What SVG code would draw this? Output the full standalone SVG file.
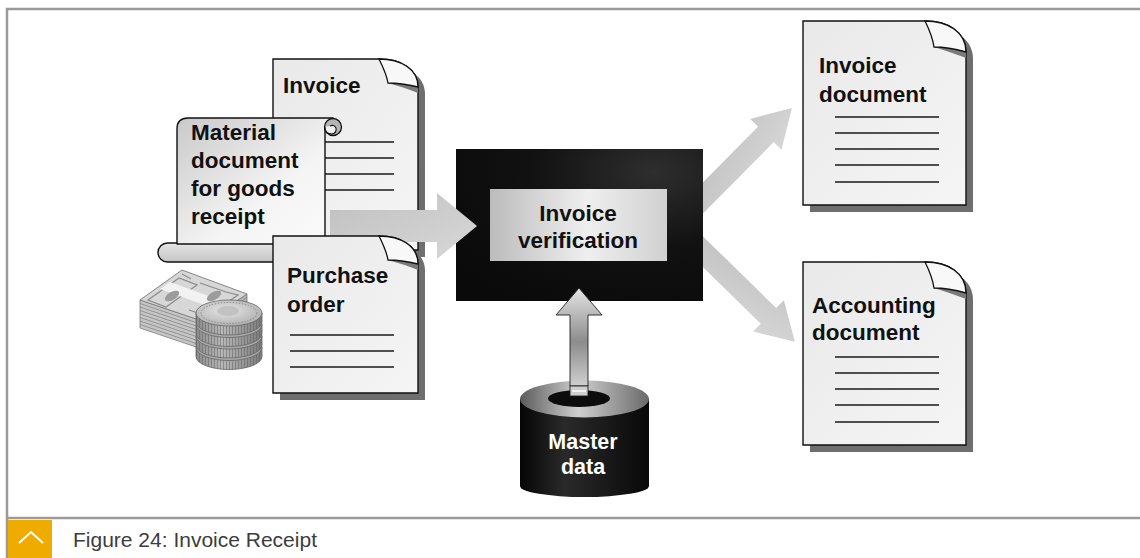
<svg xmlns="http://www.w3.org/2000/svg" width="1140" height="558" viewBox="0 0 1140 558">
  <defs>
    <style>
      .lbl { font-family: "Liberation Sans", Arial, sans-serif; font-weight: bold; font-size: 22.5px; fill: #111; }
      .wlbl { font-family: "Liberation Sans", Arial, sans-serif; font-weight: bold; font-size: 21.5px; fill: #fff; }
      .page { fill: url(#pageGrad); stroke: #111; stroke-width: 1.4; }
      .shadow { fill: #6e6e6e; }
      .flap { fill: #f8f8f8; stroke: #111; stroke-width: 1.3; }
      .band { fill: #7a7a7a; }
      .rule { stroke: #1a1a1a; stroke-width: 1.3; fill: none; }
      .frame { stroke: #9a9a9a; stroke-width: 2.5; fill: none; }
      .flow { fill: url(#flowGrad); }
    </style>
    <linearGradient id="pageGrad" x1="0" y1="0" x2="1" y2="1">
      <stop offset="0" stop-color="#e9e9e9"/>
      <stop offset="1" stop-color="#f5f5f5"/>
    </linearGradient>
    <linearGradient id="scrollGrad" x1="0" y1="0" x2="1" y2="1">
      <stop offset="0" stop-color="#c9c9c9"/>
      <stop offset="0.6" stop-color="#f4f4f4"/>
      <stop offset="1" stop-color="#fbfbfb"/>
    </linearGradient>
    <linearGradient id="rollGrad" x1="0" y1="0" x2="0" y2="1">
      <stop offset="0" stop-color="#e6e6e6"/>
      <stop offset="1" stop-color="#c4c4c4"/>
    </linearGradient>
    <linearGradient id="flowGrad" x1="0" y1="0" x2="1" y2="1">
      <stop offset="0" stop-color="#c0c0c0"/>
      <stop offset="1" stop-color="#d8d8d8"/>
    </linearGradient>
    <linearGradient id="upGrad" x1="0" y1="0" x2="0" y2="1">
      <stop offset="0" stop-color="#e4e4e4"/>
      <stop offset="0.55" stop-color="#8c8c8c"/>
      <stop offset="1" stop-color="#cfcfcf"/>
    </linearGradient>
    <radialGradient id="boxGrad" cx="0.8" cy="0.15" r="1">
      <stop offset="0" stop-color="#2e2e2e"/>
      <stop offset="0.5" stop-color="#111"/>
      <stop offset="1" stop-color="#0a0a0a"/>
    </radialGradient>
    <linearGradient id="innerGrad" x1="0" y1="0" x2="1" y2="0">
      <stop offset="0" stop-color="#bcbcbc"/>
      <stop offset="0.55" stop-color="#efefef"/>
      <stop offset="1" stop-color="#d0d0d0"/>
    </linearGradient>
    <linearGradient id="cylGrad" x1="0" y1="0" x2="1" y2="0">
      <stop offset="0" stop-color="#050505"/>
      <stop offset="0.35" stop-color="#2a2a2a"/>
      <stop offset="1" stop-color="#080808"/>
    </linearGradient>
    <linearGradient id="ringGrad" x1="0" y1="0" x2="1" y2="0">
      <stop offset="0" stop-color="#5a5a5a"/>
      <stop offset="0.45" stop-color="#cfcfcf"/>
      <stop offset="1" stop-color="#6a6a6a"/>
    </linearGradient>
    <linearGradient id="coinGrad" x1="0" y1="0" x2="1" y2="0">
      <stop offset="0" stop-color="#8a8a8a"/>
      <stop offset="0.4" stop-color="#b8b8b8"/>
      <stop offset="1" stop-color="#7a7a7a"/>
    </linearGradient>
    <radialGradient id="coinTop" cx="0.45" cy="0.4" r="0.7">
      <stop offset="0" stop-color="#e6e6e6"/>
      <stop offset="1" stop-color="#a8a8a8"/>
    </radialGradient>
    <pattern id="rib" width="3" height="12" patternUnits="userSpaceOnUse">
      <line x1="1.5" y1="0" x2="1.5" y2="12" stroke="#5e5e5e" stroke-width="0.8"/>
    </pattern>
    <clipPath id="rightOfBox">
      <rect x="703" y="0" width="437" height="558"/>
    </clipPath>
  </defs>

  <rect width="1140" height="558" fill="#fff"/>

  <!-- frame and caption -->
  <g id="frame">
    <path class="frame" d="M7,558 V9 H1140 M7,518 H1140"/>
    <rect x="8" y="520" width="44" height="38" fill="#f0ab00"/>
    <path d="M19,543 L31,532 L43,543" fill="none" stroke="#fff" stroke-width="2"/>
    <text x="73" y="547" font-family="'Liberation Sans', Arial, sans-serif" font-size="21" fill="#3c3c3c">Figure 24: Invoice Receipt</text>
  </g>

  <!-- incoming invoice -->
  <g id="invoice-in">
    <path class="shadow" transform="translate(7,7)" d="M273,59 H379 C401,59 418,69 418,87 V250 H273 Z"/>
    <path class="page" d="M273,59 H379 C401,59 418,69 418,87 V250 H273 Z"/>
    <path class="band" d="M388,83 Q401,83 418,87 L418,93 Q403,87 391,84 Z"/>
    <path class="flap" d="M379,59 C383,67 387,77 388,83 Q401,83 418,87 C418,69 401,59 379,59 Z"/>
    <text class="lbl" x="283" y="93">Invoice</text>
    <path class="rule" d="M325,142 H394 M325,158 H394 M325,174 H394 M325,190 H394"/>
  </g>

  <!-- goods receipt scroll -->
  <g id="goods-receipt">
    <rect x="158" y="243" width="150" height="19" rx="9.5" fill="url(#rollGrad)" stroke="#111" stroke-width="1.4"/>
    <path d="M177,244 V129 Q177,118 188,118 H333 L325,128 V244 Z" fill="url(#scrollGrad)" stroke="#111" stroke-width="1.4" stroke-linejoin="round"/>
    <circle cx="333" cy="127" r="8.5" fill="#b4b4b4" stroke="#111" stroke-width="1.3"/>
    <path d="M325,127 Q325,134 332,134 Q337,133 336,128 Q334,124 330,126" fill="#f0f0f0" stroke="#111" stroke-width="1.1"/>
    <text class="lbl" x="191" y="140">Material</text>
    <text class="lbl" x="191" y="168">document</text>
    <text class="lbl" x="191" y="196">for goods</text>
    <text class="lbl" x="191" y="224">receipt</text>
  </g>

  <!-- money: banknotes and coins -->
  <g id="money">
    <path d="M140,300 L205,322 L205,350 L140,328 Z" fill="#c6c6c6" stroke="#7a7a7a" stroke-width="0.8"/>
    <path d="M205,322 L247,294 L247,322 L205,350 Z" fill="#b4b4b4" stroke="#7a7a7a" stroke-width="0.8"/>
    <path d="M140,303.5 L205,325.5 M140,307 L205,329 M140,310.5 L205,332.5 M140,314 L205,336 M140,317.5 L205,339.5 M140,321 L205,343 M140,324.5 L205,346.5 M205,325.5 L247,297.5 M205,329 L247,301 M205,332.5 L247,304.5 M205,336 L247,308 M205,339.5 L247,311.5 M205,343 L247,315 M205,346.5 L247,318.5" stroke="#7c7c7c" stroke-width="0.7" fill="none"/>
    <path d="M140,300 L182,270 L247,294 L205,322 Z" fill="#d7d7d7" stroke="#7a7a7a" stroke-width="0.9"/>
    <path d="M148,300 L179,278 L197,285 L166,307 Z" fill="none" stroke="#8c8c8c" stroke-width="1.2"/>
    <path d="M191,279 L182,274 M200,283 L226,292 L238,295 L207,316 L189,310" fill="none" stroke="#8c8c8c" stroke-width="1.2"/>
    <path d="M160,289 L170,282 L234,305 L224,312 Z" fill="#f2f2f2"/>
    <ellipse cx="172" cy="296" rx="8" ry="4" fill="#9c9c9c" transform="rotate(-30 172 296)"/>
    <ellipse cx="214" cy="296" rx="8" ry="4" fill="#9c9c9c" transform="rotate(-30 214 296)"/>
    <!-- coin stack, bottom coin first -->
    <path d="M196,347.5 V356.5 A33,13 0 0 0 262,356.5 V347.5 Z" fill="url(#coinGrad)" stroke="#666" stroke-width="0.8"/>
    <path d="M196,347.5 V356.5 A33,13 0 0 0 262,356.5 V347.5 Z" fill="url(#rib)" opacity="0.6"/>
    <ellipse cx="229" cy="347.5" rx="33" ry="13" fill="#aaa" stroke="#666" stroke-width="0.8"/>
    <path d="M196,336 V345 A33,13 0 0 0 262,345 V336 Z" fill="url(#coinGrad)" stroke="#666" stroke-width="0.8"/>
    <path d="M196,336 V345 A33,13 0 0 0 262,345 V336 Z" fill="url(#rib)" opacity="0.6"/>
    <ellipse cx="229" cy="336" rx="33" ry="13" fill="#aaa" stroke="#666" stroke-width="0.8"/>
    <path d="M196,324.5 V333.5 A33,13 0 0 0 262,333.5 V324.5 Z" fill="url(#coinGrad)" stroke="#666" stroke-width="0.8"/>
    <path d="M196,324.5 V333.5 A33,13 0 0 0 262,333.5 V324.5 Z" fill="url(#rib)" opacity="0.6"/>
    <ellipse cx="229" cy="324.5" rx="33" ry="13" fill="#aaa" stroke="#666" stroke-width="0.8"/>
    <path d="M196,313 V322 A33,13 0 0 0 262,322 V313 Z" fill="url(#coinGrad)" stroke="#666" stroke-width="0.8"/>
    <path d="M196,313 V322 A33,13 0 0 0 262,322 V313 Z" fill="url(#rib)" opacity="0.6"/>
    <ellipse cx="229" cy="313" rx="33" ry="13" fill="url(#coinTop)" stroke="#666" stroke-width="0.8"/>
    <ellipse cx="229" cy="313" rx="28" ry="10.5" fill="none" stroke="#8a8a8a" stroke-width="1" stroke-dasharray="1.5 1.5"/>
    <ellipse cx="228" cy="311" rx="11" ry="5" fill="#c2c2c2"/>
  </g>

  <!-- invoice verification step -->
  <g id="invoice-verification">
    <rect x="456" y="149" width="247" height="152" fill="url(#boxGrad)"/>
    <rect x="490" y="189" width="177" height="72" fill="url(#innerGrad)"/>
    <text class="lbl" x="578" y="221" text-anchor="middle">Invoice</text>
    <text class="lbl" x="578" y="248" text-anchor="middle">verification</text>
  </g>

  <!-- master data store -->
  <g id="master-data">
    <path d="M520,399 V486 A64.5,11 0 0 0 649,486 V399 Z" fill="url(#cylGrad)"/>
    <ellipse cx="584.5" cy="399" rx="64.5" ry="18.5" fill="url(#ringGrad)"/>
    <ellipse cx="579" cy="398.5" rx="31" ry="8.5" fill="#0c0c0c"/>
    <text class="wlbl" x="583" y="449" text-anchor="middle">Master</text>
    <text class="wlbl" x="583" y="474" text-anchor="middle">data</text>
  </g>

  <!-- connectors -->
  <g id="connectors">
    <path class="flow" d="M330,210 H437 V193 L477,226 L437,259 V242 H330 Z"/>
    <g clip-path="url(#rightOfBox)">
      <path class="flow" transform="translate(692,209) rotate(-45.3)" d="M0,-11 H105 V-22 L142,0 L105,22 V11 H0 Z"/>
      <path class="flow" transform="translate(692,241) rotate(44.4)" d="M0,-11 H107 V-22 L144,0 L107,22 V11 H0 Z"/>
    </g>
    <path d="M579,288 L602,315 H588 V386 H570 V315 H556 Z" fill="url(#upGrad)" stroke="#222" stroke-width="0.9"/>
    <rect x="570" y="386" width="18" height="10" fill="#cfcfcf" stroke="#222" stroke-width="0.9"/>
    <line x1="572" y1="391" x2="586" y2="391" stroke="#fff" stroke-width="1.5"/>
  </g>

  <!-- purchase order -->
  <g id="purchase-order">
    <path class="shadow" transform="translate(7,7)" d="M273,236 H379 C401,236 418,246 418,264 V393 H273 Z"/>
    <path class="page" d="M273,236 H379 C401,236 418,246 418,264 V393 H273 Z"/>
    <path class="band" d="M388,260 Q401,260 418,264 L418,270 Q403,264 391,261 Z"/>
    <path class="flap" d="M379,236 C383,244 387,254 388,260 Q401,260 418,264 C418,246 401,236 379,236 Z"/>
    <text class="lbl" x="287" y="283">Purchase</text>
    <text class="lbl" x="287" y="312">order</text>
    <path class="rule" d="M290,335 H394 M290,351 H394 M290,367 H394"/>
  </g>

  <!-- outgoing invoice document -->
  <g id="invoice-document">
    <path class="shadow" transform="translate(7,7)" d="M803,21 H925 C948,21 966,32 966,52 V205 H803 Z"/>
    <path class="page" d="M803,21 H925 C948,21 966,32 966,52 V205 H803 Z"/>
    <path class="band" d="M934,47 Q948,47 966,52 L966,58 Q950,52 937,48 Z"/>
    <path class="flap" d="M925,21 C929,29 933,40 934,47 Q948,47 966,52 C966,32 948,21 925,21 Z"/>
    <text class="lbl" x="819" y="73">Invoice</text>
    <text class="lbl" x="819" y="102">document</text>
    <path class="rule" d="M835,117 H939 M835,133 H939 M835,149 H939 M835,165 H939 M835,182 H939"/>
  </g>

  <!-- outgoing accounting document -->
  <g id="accounting-document">
    <path class="shadow" transform="translate(7,7)" d="M803,262 H925 C948,262 966,273 966,293 V445 H803 Z"/>
    <path class="page" d="M803,262 H925 C948,262 966,273 966,293 V445 H803 Z"/>
    <path class="band" d="M934,288 Q948,288 966,293 L966,299 Q950,293 937,289 Z"/>
    <path class="flap" d="M925,262 C929,270 933,281 934,288 Q948,288 966,293 C966,273 948,262 925,262 Z"/>
    <text class="lbl" x="812" y="313">Accounting</text>
    <text class="lbl" x="812" y="340">document</text>
    <path class="rule" d="M835,357 H939 M835,373 H939 M835,389 H939 M835,405 H939 M835,422 H939"/>
  </g>
</svg>
